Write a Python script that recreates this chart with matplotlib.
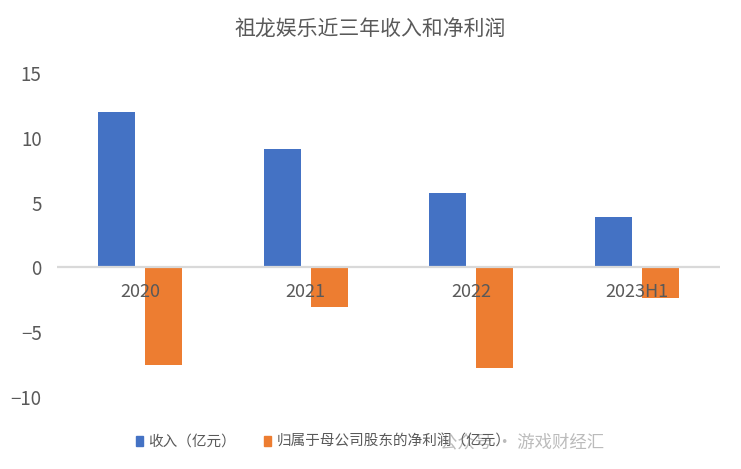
import numpy as np
import matplotlib.pyplot as plt
from matplotlib.patches import Patch

plt.rcParams['font.family'] = ['Noto Sans CJK SC', 'DejaVu Sans']

# data
periods = ['2020', '2021', '2022', '2023H1']
revenue = [12.0, 9.15, 5.77, 3.92]
net_profit = [-7.56, -3.05, -7.74, -2.36]

title = '祖龙娱乐近三年收入和净利润'
rev_label = '收入（亿元）'
np_label = '归属于母公司股东的净利润（亿元）'

blue = '#4472C4'
orange = '#ED7D31'
txt = '#595959'

fig = plt.figure(figsize=(7.41, 4.69), dpi=100)
ax = fig.add_axes([57/741, 1-397/469, 663/741, 324/469])

x = np.arange(len(periods))
w = 0.224
off = 0.142
ax.bar(x - off, revenue, w, color=blue, zorder=2)
ax.bar(x + off, net_profit, w, color=orange, zorder=2)

ax.set_xlim(-0.5, len(periods) - 0.5)
ax.set_ylim(-10, 15)
ax.set_yticks([-10, -5, 0, 5, 10, 15])
ax.tick_params(axis='y', length=0, labelsize=13.5, labelcolor=txt, pad=11)
ax.set_xticks([])
for s in ax.spines.values():
    s.set_visible(False)
ax.axhline(0, color='#D9D9D9', lw=1.6, zorder=3)

# category labels sit just under the zero line, over the bars
for i, p in enumerate(periods):
    ax.text(i, -1.9, p, ha='center', va='center', fontsize=13, color=txt, zorder=5)

fig.text(370/741, 1-30/469, title, ha='center', va='center', fontsize=15, color=txt)

handles = [Patch(color=blue, label=rev_label), Patch(color=orange, label=np_label)]
leg = fig.legend(handles=handles, loc='center left', bbox_to_anchor=(123/741, 1-442/469),
                 ncol=2, frameon=False, fontsize=10.5, labelcolor=txt,
                 handlelength=0.5, handleheight=0.7, handletextpad=0.35, columnspacing=1.9)

# watermark
fig.text(440/741, 1-442/469, '公众号 · 游戏财经汇', ha='left', va='center', fontsize=12.5,
         color='#b0b0b0', alpha=0.85)

fig.savefig('out.png', dpi=100)
